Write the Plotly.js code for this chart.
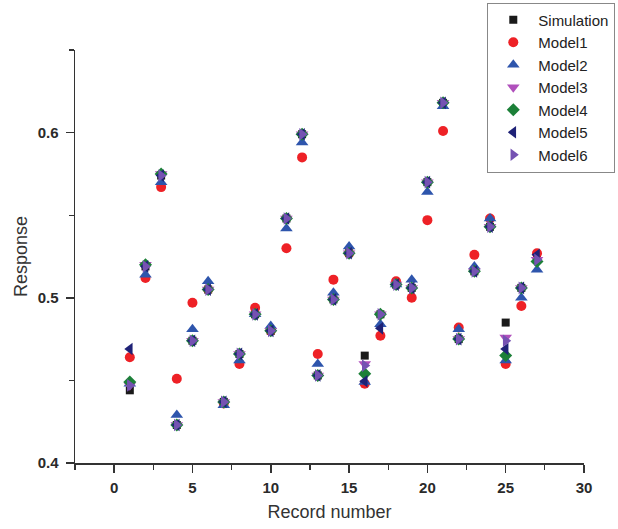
<!DOCTYPE html>
<html>
<head>
<meta charset="utf-8">
<script src="https://cdn.plot.ly/plotly-3.0.1.min.js"></script>
<style>
  html, body { margin: 0; padding: 0; background: #fff; }
  #chart { width: 618px; height: 529px; }
</style>
</head>
<body>
<div id="chart"></div>
<script>
// Record numbers 1..27
const records = [1,2,3,4,5,6,7,8,9,10,11,12,13,14,15,16,17,18,19,20,21,22,23,24,25,26,27];

// Response per record: simulation and the six models
const simulation = [0.444,0.519,0.574,0.423,0.474,0.505,0.437,0.466,0.490,0.480,0.548,0.599,0.453,0.499,0.527,0.465,0.490,0.508,0.506,0.570,0.618,0.475,0.516,0.543,0.485,0.506,0.523];
const model1     = [0.464,0.512,0.567,0.451,0.497,0.505,0.436,0.460,0.494,0.480,0.530,0.585,0.466,0.511,0.527,0.448,0.477,0.510,0.500,0.547,0.601,0.482,0.526,0.548,0.460,0.495,0.527];
const model2     = [0.448,0.514,0.570,0.429,0.481,0.510,0.435,0.462,0.490,0.483,0.542,0.594,0.460,0.503,0.531,0.449,0.484,0.508,0.511,0.564,0.616,0.481,0.519,0.548,0.462,0.500,0.517];
const model3     = [0.447,0.520,0.575,0.423,0.474,0.505,0.437,0.466,0.490,0.480,0.548,0.599,0.453,0.499,0.527,0.460,0.490,0.508,0.506,0.570,0.618,0.475,0.516,0.543,0.476,0.506,0.523];
const model4     = [0.449,0.520,0.575,0.423,0.474,0.505,0.437,0.466,0.490,0.480,0.548,0.599,0.453,0.499,0.527,0.454,0.490,0.508,0.506,0.570,0.618,0.475,0.516,0.543,0.465,0.506,0.522];
const model5     = [0.469,0.519,0.574,0.423,0.474,0.505,0.437,0.466,0.490,0.480,0.548,0.599,0.453,0.499,0.527,0.4495,0.4815,0.508,0.506,0.570,0.618,0.475,0.516,0.543,0.469,0.506,0.526];
const model6     = [0.447,0.519,0.574,0.423,0.474,0.505,0.437,0.466,0.490,0.480,0.548,0.599,0.453,0.499,0.527,0.459,0.490,0.508,0.506,0.570,0.618,0.475,0.516,0.543,0.474,0.506,0.523];

const seriesNames = ['Simulation','Model1','Model2','Model3','Model4','Model5','Model6'];

const series = [
  { y: simulation, symbol: 'square',         color: '#1a1a1a', size: 8 },
  { y: model1,     symbol: 'circle',         color: '#ee2126', size: 10 },
  { y: model2,     symbol: 'triangle-up',    color: '#2e55ac', size: 11 },
  { y: model3,     symbol: 'triangle-down',  color: '#b050bc', size: 11 },
  { y: model4,     symbol: 'diamond',        color: '#1c8038', size: 10 },
  { y: model5,     symbol: 'triangle-left',  color: '#1f2277', size: 11 },
  { y: model6,     symbol: 'triangle-right', color: '#7552b2', size: 11 }
];

const traces = series.map((s, i) => ({
  type: 'scatter',
  mode: 'markers',
  name: seriesNames[i],
  x: records,
  y: s.y,
  marker: { symbol: s.symbol, color: s.color, size: s.size, line: { width: 0 } }
}));

const axisCommon = {
  showgrid: false,
  zeroline: false,
  showline: true,
  linecolor: '#333',
  linewidth: 1.5,
  ticks: 'outside',
  ticklen: 8,
  tickwidth: 1.5,
  tickcolor: '#333',
  tickfont: { family: 'Liberation Sans, Arial, sans-serif', size: 15, color: '#2a2a2a', weight: 'bold' },
  mirror: false
};

const layout = {
  width: 618,
  height: 529,
  margin: { l: 75, r: 34, t: 50, b: 66, autoexpand: false },
  paper_bgcolor: '#fff',
  plot_bgcolor: '#fff',
  showlegend: true,
  xaxis: Object.assign({}, axisCommon, {
    range: [-2.5, 30],
    tickmode: 'array',
    tickvals: [0, 5, 10, 15, 20, 25, 30],
    ticktext: ['0', '5', '10', '15', '20', '25', '30'],
    ticklabelstandoff: 2,
    minor: { dtick: 2.5, tick0: 0, ticks: 'outside', ticklen: 5, tickwidth: 1.2, tickcolor: '#333' },
    title: { text: 'Record number', font: { family: 'Liberation Sans, Arial, sans-serif', size: 18, color: '#333' }, standoff: 11 }
  }),
  yaxis: Object.assign({}, axisCommon, {
    range: [0.4, 0.65],
    tickmode: 'array',
    tickvals: [0.4, 0.5, 0.6],
    ticktext: ['0.4', '0.5', '0.6'],
    ticklabelstandoff: 4,
    minor: { dtick: 0.05, tick0: 0.4, ticks: 'outside', ticklen: 5, tickwidth: 1.2, tickcolor: '#333' },
    title: { text: 'Response', font: { family: 'Liberation Sans, Arial, sans-serif', size: 18, color: '#333' }, standoff: 5 }
  }),
  legend: {
    x: 0.81,
    y: 1.115,
    xanchor: 'left',
    yanchor: 'top',
    bgcolor: 'rgba(255,255,255,0)',
    bordercolor: '#888',
    borderwidth: 1,
    itemwidth: 40,
    font: { family: 'Liberation Sans, Arial, sans-serif', size: 15, color: '#222' },
    tracegroupgap: 0
  }
};

Plotly.newPlot('chart', traces, layout, { displayModeBar: false, staticPlot: true });
</script>
</body>
</html>
